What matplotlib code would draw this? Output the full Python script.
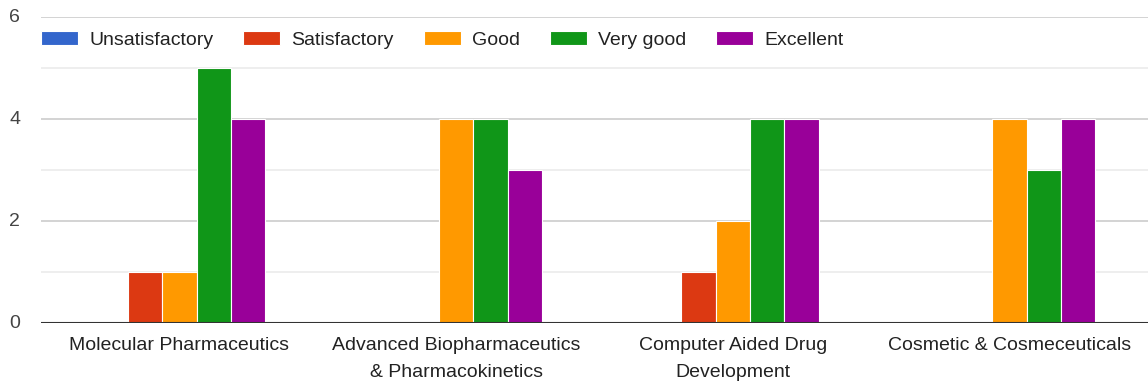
import matplotlib.pyplot as plt
import numpy as np

plt.rcParams['font.family'] = ['Liberation Sans', 'DejaVu Sans']

courses = ["Molecular Pharmaceutics",
           "Advanced Biopharmaceutics\n& Pharmacokinetics",
           "Computer Aided Drug\nDevelopment",
           "Cosmetic & Cosmeceuticals"]
ratings = ["Unsatisfactory", "Satisfactory", "Good", "Very good", "Excellent"]
unsatisfactory = [0, 0, 0, 0]
satisfactory = [1, 0, 1, 0]
good = [1, 4, 2, 4]
very_good = [5, 4, 4, 3]
excellent = [4, 3, 4, 4]
counts = [unsatisfactory, satisfactory, good, very_good, excellent]
colors = ["#3366cc", "#dc3912", "#ff9900", "#109618", "#990099"]

fig = plt.figure(figsize=(11.48, 3.83), dpi=100)
ax = fig.add_axes([41 / 1148, 1 - 323 / 383, 1 - 41 / 1148, (323 - 17) / 383])

x = np.arange(len(courses))
w = 0.124
for i, (vals, c, name) in enumerate(zip(counts, colors, ratings)):
    ax.bar(x + (i - 2) * w, vals, width=w, color=c, edgecolor="white",
           linewidth=0.8, label=name, zorder=3)

ax.set_xlim(-0.5, 3.5)
ax.set_ylim(0, 6)
ax.set_yticks([0, 2, 4, 6])
ax.set_yticks([1, 3, 5], minor=True)
ax.grid(axis="y", which="major", color="#cccccc", linewidth=1.2, zorder=0)
ax.grid(axis="y", which="minor", color="#ebebeb", linewidth=1.2, zorder=0)
ax.axhline(0, color="#333333", linewidth=1.5, zorder=4)
for s in ax.spines.values():
    s.set_visible(False)

ax.set_xticks(x)
ax.set_xticklabels(courses, fontsize=14, color="#222222", linespacing=1.75)
ax.tick_params(axis="x", length=0, pad=10)
ax.tick_params(axis="y", which="both", length=0, pad=15, labelsize=14,
               labelcolor="#444444")
for lbl in ax.get_yticklabels():
    lbl.set_verticalalignment("center")

ax.legend(loc="upper left", bbox_to_anchor=(0, 0.953), ncol=5, frameon=False,
          fontsize=14, handlelength=1.9, handleheight=0.72, handletextpad=0.57,
          columnspacing=1.55, borderaxespad=0, borderpad=0, labelcolor="#222222")

fig.savefig("out.png", dpi=100)
